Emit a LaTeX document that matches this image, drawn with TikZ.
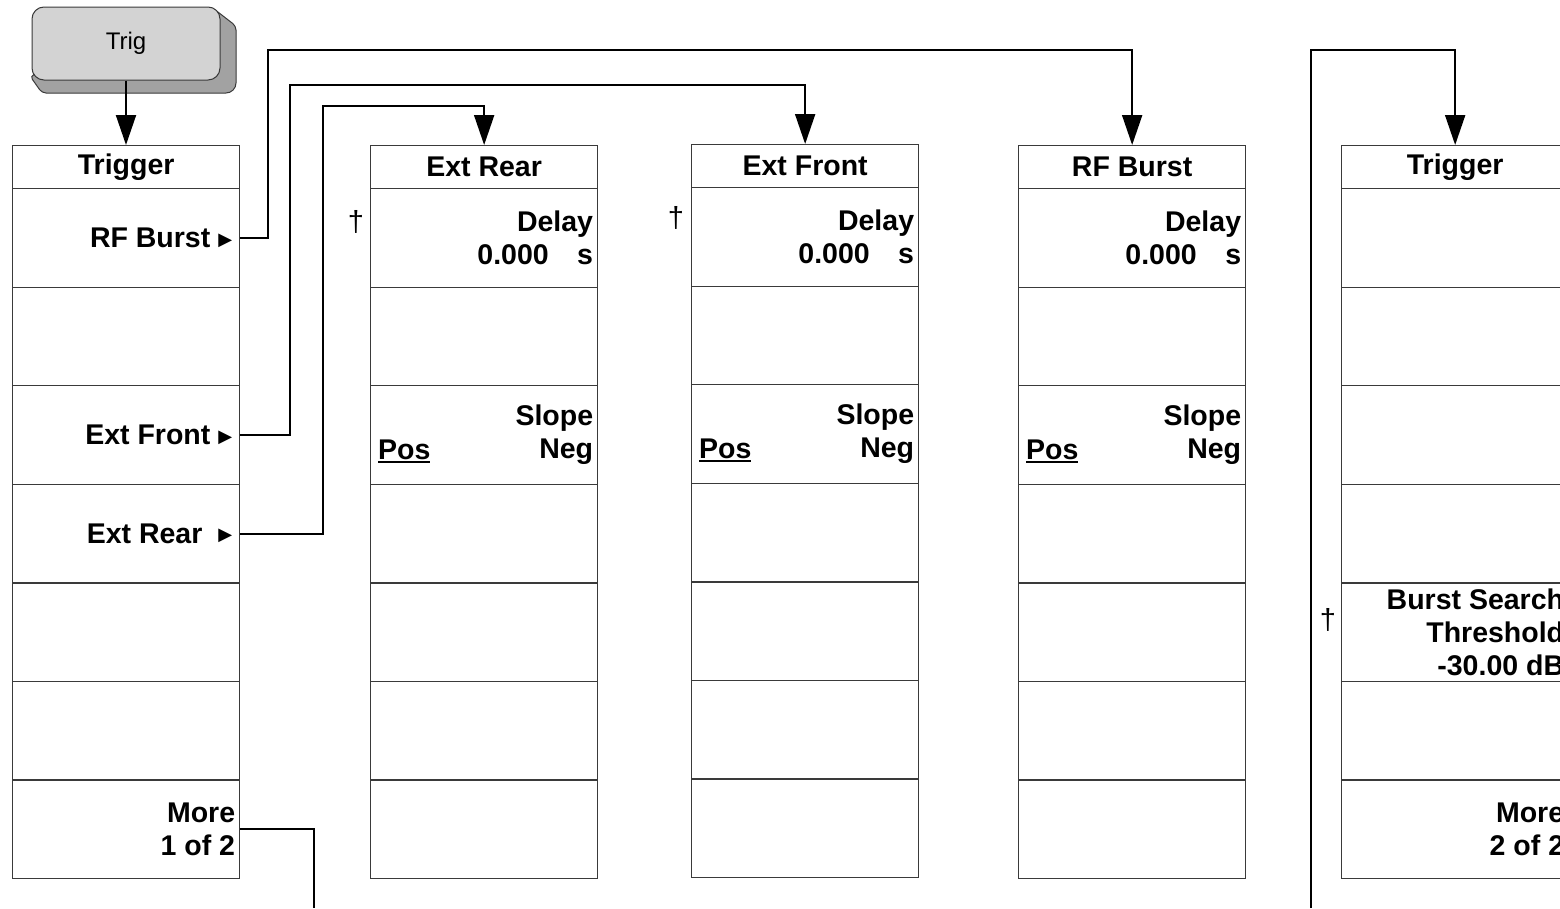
\documentclass[tikz,border=0pt]{standalone}
\usepackage{fontspec}
\setmainfont{Liberation Sans}
\newfontfamily\symfont{DejaVu Sans}
\usepackage{xcolor}
\definecolor{keyface}{HTML}{D3D3D3}
\definecolor{keyside}{HTML}{A2A2A2}
\definecolor{keyline}{HTML}{3A3A3A}
\usepackage{tikz}
\usetikzlibrary{arrows.meta, positioning, calc}

\newcommand{\keyfont}{\bfseries\fontsize{28.5}{33}\selectfont}
\newcommand{\submenu}{\raisebox{2.5pt}{\symfont\fontsize{18}{18}\selectfont ▶}}
\newcommand{\uword}[1]{\setbox0\hbox{#1}\rlap{\rule[-4pt]{\wd0}{2.2pt}}\box0}

\begin{document}
\begin{tikzpicture}[x=1pt, y=-1pt,
  trigkey/.style={draw=keyline, fill=keyface, line width=1pt, rounded corners=12pt,
    minimum width=188pt, minimum height=73pt, inner sep=0pt,
    font=\fontsize{24}{24}\selectfont},
  menutitle/.style={draw=keyline, line width=1.3pt, minimum width=227pt,
    minimum height=43pt, anchor=north west, inner sep=0pt, font=\keyfont},
  softkey/.style={draw=keyline, line width=1.3pt, minimum width=227pt,
    minimum height=98.57pt, anchor=north west, inner sep=0pt},
  keytext/.style={anchor=east, align=right, inner sep=0pt, font=\keyfont, xshift=-5pt},
  menutext/.style={anchor=east, inner sep=0pt, font=\keyfont, xshift=-8pt},
  postext/.style={anchor=base west, inner sep=0pt, font=\keyfont},
  dag/.style={inner sep=0pt, font=\fontsize{29}{29}\selectfont},
  wire/.style={line width=2pt},
  conn/.style={wire, -{Triangle[length=30pt, width=20pt]}}
]
  \useasboundingbox (0,0) rectangle (1560,908);
  \clip (0,0) rectangle (1560,908);

  % front panel key
  \draw[fill=keyside, draw=keyline, line width=1pt, rounded corners=4pt]
    (214,9) -- (236,26) [rounded corners=10pt] -- (236,93) [rounded corners=4pt]
    -- (42,93) -- (30,76) -- cycle;
  \node[trigkey] (trig) at (126,43.5) {Trig};

  % menus
  \foreach \m/\x/\y/\heading in {trg/12/145/Trigger, rear/370/145/Ext Rear,
      front/691/144/Ext Front, burst/1018/145/RF Burst, trgb/1341/145/Trigger} {
    \node[menutitle] (\m-t) at (\x,\y) {\heading};
    \foreach \r in {1,...,7}
      \node[softkey] (\m-\r) at (\x,{\y+43+98.57*(\r-1)}) {};
  }

  \node[menutext] (trg-rf) at (trg-1.east) {RF Burst \submenu};
  \node[menutext] (trg-front) at (trg-3.east) {Ext Front \submenu};
  \node[menutext] (trg-rear) at (trg-4.east) {Ext Rear\ \ \submenu};
  \node[keytext] (trg-more) at (trg-7.east) {More\\1 of 2};

  \foreach \m in {rear,front,burst} {
    \node[keytext] (\m-delay) at (\m-1.east) {Delay\\0.000\quad s};
    \node[keytext] (\m-slope) at (\m-3.east) {Slope\\Neg};
    \node[postext] (\m-pos) at ($(\m-3.west)+(8,24)$) {\uword{Pos}};
  }
  \node[dag] (rear-dag) at ($(rear-1.north west)+(-14,34)$) {†};
  \node[dag] (front-dag) at ($(front-1.north west)+(-15,31)$) {†};

  \node[keytext] (trgb-thr) at (trgb-5.east) {Burst Search\\Threshold\\-30.00 dB};
  \node[keytext] (trgb-more) at (trgb-7.east) {More\\2 of 2};
  \node[dag] (trgb-dag) at ($(trgb-5.north west)+(-13,38)$) {†};

  % connectors
  \draw[conn] (trig.south) -- (trig.south |- trg-t.north);
  \draw[conn] (trg-1.east) -| (268,50) -| (burst-t.north);
  \draw[conn] (trg-3.east) -| (290,85) -| (front-t.north);
  \draw[conn] (trg-4.east) -| (323,106) -| (rear-t.north);
  \coordinate (more-out) at (314,908);
  \draw[wire] (trg-7.east) -| (more-out);
  \coordinate (more-in) at (1311,908);
  \draw[conn] (more-in) |- ($(trgb-t.north)+(0,-95)$) -- (trgb-t.north);
\end{tikzpicture}
\end{document}
